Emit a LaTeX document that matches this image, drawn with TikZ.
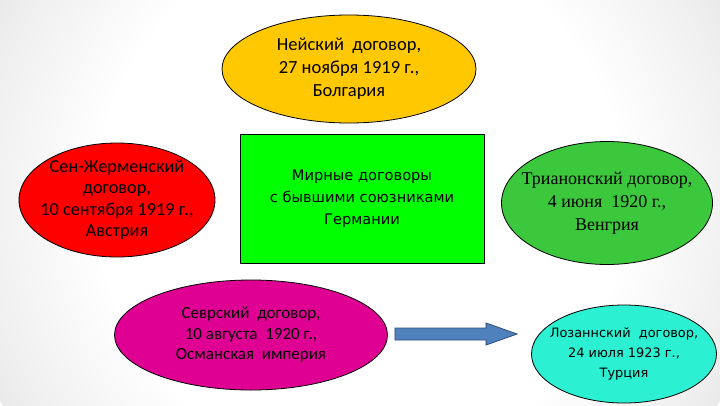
\documentclass[tikz,border=0pt]{standalone}
\usepackage{fontspec}
\setmainfont{Carlito}
\newfontfamily\serifru{Liberation Serif}
\newfontfamily\sansru{DejaVu Sans}
\usetikzlibrary{shapes.geometric,calc}
\pgfdeclareradialshading{bgshade}{\pgfpoint{0bp}{0bp}}{color(0bp)=(white); color(16bp)=(white); color(24bp)=(black!7); color(44bp)=(black!34); color(50bp)=(black!40)}
\definecolor{cyel}{HTML}{FFC800}
\definecolor{cred}{HTML}{FF0000}
\definecolor{cgrn}{HTML}{00FF00}
\definecolor{ctri}{HTML}{3CC83C}
\definecolor{cmag}{HTML}{DF0093}
\definecolor{ccya}{HTML}{2CF0D2}
\definecolor{carr}{HTML}{4F81BD}
\definecolor{carrd}{HTML}{2F4F80}
\tikzset{
  oval/.style={ellipse, draw=black, line width=0.8pt, inner sep=0pt},
  lbl/.style={align=center, text=black, inner sep=0pt},
}
\begin{document}
\begin{tikzpicture}[x=1pt,y=-1pt]
\useasboundingbox (0,0) rectangle (720,405);
\begin{scope}
\clip (0,0) rectangle (720,405);
\shade[shading=bgshade] (360,200) circle (412);
\end{scope}
\node[oval, fill=cyel, minimum width=254, minimum height=108] (nei) at (349,69) {};
\node[lbl, font=\fontsize{18.5}{23}\selectfont] (neit) at (nei.center)
  {Нейский~~договор,\\27 ноября 1919 г.,\\Болгария};
\node[oval, fill=cred, minimum width=196, minimum height=114] (sen) at (117,200) {};
\node[lbl, font=\fontsize{18.3}{21.5}\selectfont] (sent) at (sen.center)
  {Сен-Жерменский\\договор,\\10 сентября 1919 г.,\\Австрия};
\node[draw=black, line width=1pt, fill=cgrn, minimum width=244, minimum height=129, inner sep=0pt] (mir) at (362,198.5) {};
\node[lbl, font=\sansru\fontsize{14.6}{22}\selectfont] (mirt) at (mir.center)
  {Мирные договоры\\с бывшими союзниками\\Германии};
\node[oval, fill=ctri, minimum width=211, minimum height=123] (tri) at (607,203) {};
\node[lbl, font=\serifru\fontsize{18}{23}\selectfont] (trit) at (tri.center)
  {Трианонский договор,\\4 июня~~1920 г.,\\Венгрия};
\node[oval, fill=cmag, minimum width=273, minimum height=110] (sev) at (251,335) {};
\node[lbl, font=\fontsize{17}{20.5}\selectfont] (sevt) at (sev.center)
  {Севрский~~договор,\\10 августа~~1920 г.,\\Османская~~империя};
\node[oval, fill=ccya, minimum width=185, minimum height=98] (lau) at (624,354) {};
\node[lbl, font=\sansru\fontsize{12.9}{20}\selectfont] (laut) at (lau.center)
  {Лозаннский~~договор,\\24 июля 1923 г.,\\Турция};
\coordinate (t) at ($(sev.east)+(7,-1)$);
\coordinate (h) at ($(lau.west |- t)+(-14,0)$);
\filldraw[fill=carr, draw=carrd, line width=0.8pt]
  ($(t)+(0,-6)$) -- ($(h)+(-31,-6)$) -- ($(h)+(-31,-11)$) -- (h) -- ($(h)+(-31,11)$) -- ($(h)+(-31,6)$) -- ($(t)+(0,6)$) -- cycle;
\end{tikzpicture}
\end{document}
